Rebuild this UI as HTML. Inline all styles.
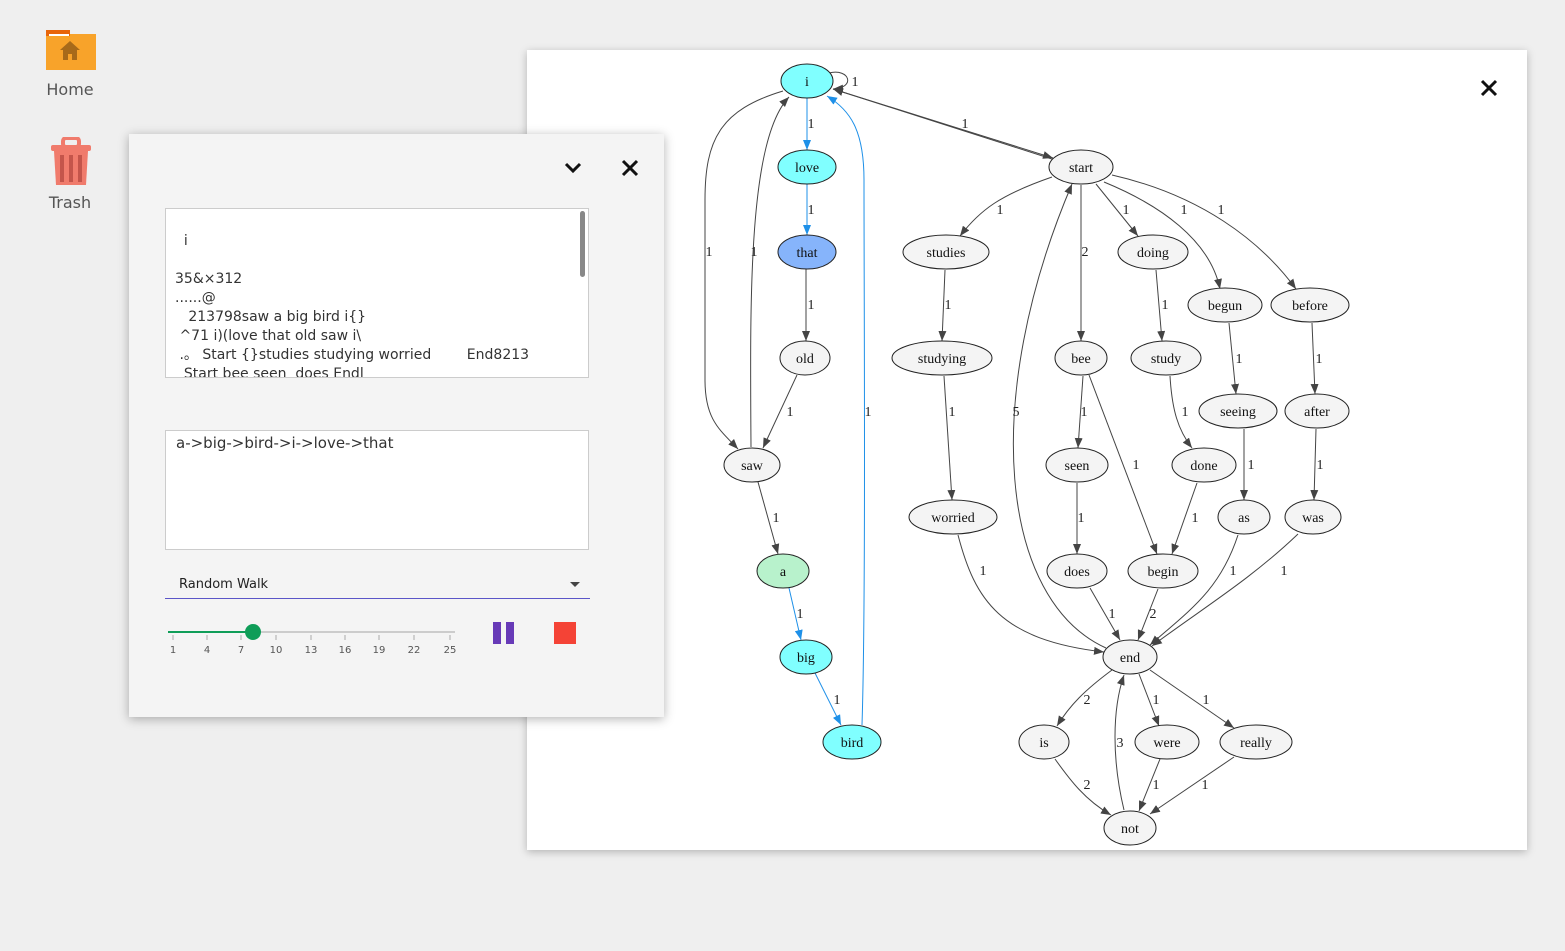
<!DOCTYPE html>
<html><head><meta charset="utf-8"><style>
body{margin:0;width:1565px;height:951px;background:#efefef;position:relative;overflow:hidden;font-family:"DejaVu Sans","Liberation Sans",sans-serif}
.lbl{position:absolute;width:100px;text-align:center;font-size:16px;color:#555}
#graph{position:absolute;left:527px;top:50px;width:1000px;height:800px;background:#fff;box-shadow:0 2px 8px rgba(0,0,0,.25)}
#panel{position:absolute;z-index:10;left:129px;top:134px;width:535px;height:583px;background:#f4f4f4;box-shadow:0 2px 10px rgba(0,0,0,.3)}
.ta{position:absolute;background:#fff;border:1px solid #ccc;box-sizing:border-box}
.ta pre{margin:0;font-family:"DejaVu Sans",sans-serif;font-size:14px;line-height:19px;color:#333}
</style></head><body>
<svg style="position:absolute;left:45px;top:28px" width="52" height="44"><path d="M1 2h20l4 4h26v36H1z" fill="#f8a32a"/><rect x="1" y="2" width="24" height="6" fill="#e8650a"/><rect x="4" y="6" width="20" height="2" fill="#fff"/><path d="M15 22l10-9 10 9h-3v10h-5v-6h-4v6h-5V22z" fill="#a76a1a"/></svg>
<div class="lbl" style="left:20px;top:80px">Home</div>
<svg style="position:absolute;left:50px;top:137px" width="42" height="52"><rect x="13" y="1" width="16" height="9" rx="3" fill="none" stroke="#f07b6c" stroke-width="4"/><rect x="1" y="8" width="40" height="6" rx="2" fill="#f07b6c"/><path d="M4 14h34l-2 34H6z" fill="#f07b6c"/><rect x="10" y="18" width="4" height="27" fill="#c4554b"/><rect x="19" y="18" width="4" height="27" fill="#c4554b"/><rect x="28" y="18" width="4" height="27" fill="#c4554b"/></svg>
<div class="lbl" style="left:20px;top:193px">Trash</div>

<div id="graph"></div>
<svg style="position:absolute;left:0;top:0" width="1565" height="951" font-family="Liberation Serif,serif" font-size="14">
<defs>
<marker id="a" markerUnits="userSpaceOnUse" markerWidth="10" markerHeight="8" refX="10" refY="4" orient="auto"><path d="M0 0L10 4L0 8z" fill="#444"/></marker>
<marker id="b" markerUnits="userSpaceOnUse" markerWidth="10" markerHeight="8" refX="10" refY="4" orient="auto"><path d="M0 0L10 4L0 8z" fill="#1e90e8"/></marker>
</defs>
<path d="M1482 81l14 14M1496 81l-14 14" stroke="#111" stroke-width="3"/>
<g fill="none" stroke="#444" stroke-width="1" marker-end="url(#a)">
<path d="M829 73C850 68 856 88 833 89"/>
<path d="M806 269V341"/>
<path d="M797 375L763 448"/>
<path d="M751 447C750 300 748 140 789 97"/>
<path d="M783 91C720 110 705 140 705 200L705 380C705 420 720 430 738 449"/>
<path d="M758 482L778 554"/>
<path d="M833 89L1053 158"/>
<path d="M1055 160L833 89"/>
<path d="M1052 177C1000 195 980 210 960 236"/>
<path d="M1081 185V341"/>
<path d="M1096 184L1138 236"/>
<path d="M1104 182C1160 205 1210 240 1220 289"/>
<path d="M1112 175C1200 195 1260 240 1296 289"/>
<path d="M945 270L942 341"/>
<path d="M944 376L952 500"/>
<path d="M958 535C975 600 1000 640 1104 652"/>
<path d="M1156 270L1162 341"/>
<path d="M1170 376C1172 410 1178 430 1192 448"/>
<path d="M1197 483L1172 554"/>
<path d="M1083 376L1078 448"/>
<path d="M1089 375L1157 554"/>
<path d="M1077 483V554"/>
<path d="M1090 588L1120 640"/>
<path d="M1158 589L1138 640"/>
<path d="M1229 323L1236 394"/>
<path d="M1244 429L1244 500"/>
<path d="M1238 535C1220 590 1190 610 1150 645"/>
<path d="M1312 323L1315 394"/>
<path d="M1316 429L1314 500"/>
<path d="M1298 534C1250 580 1200 610 1152 646"/>
<path d="M1106 648C1000 600 980 400 1072 184"/>
<path d="M1112 670C1085 690 1070 705 1057 726"/>
<path d="M1139 674L1159 726"/>
<path d="M1150 670L1234 728"/>
<path d="M1055 759C1070 780 1085 800 1111 815"/>
<path d="M1160 759L1139 811"/>
<path d="M1234 757L1150 814"/>
<path d="M1124 810C1112 760 1112 710 1124 675"/>
</g>
<g fill="none" stroke="#1e90e8" marker-end="url(#b)">
<path d="M807 98V150"/>
<path d="M807 184V235"/>
<path d="M789 588L801 640"/>
<path d="M815 673L841 725"/>
<path d="M862 725C866 600 864 300 864 180C864 130 850 110 827 96"/>
</g>
<g stroke="#222" stroke-width="1">
<ellipse cx="807" cy="81" rx="26" ry="17" fill="#80ffff"/>
<ellipse cx="807" cy="167" rx="29" ry="17" fill="#80ffff"/>
<ellipse cx="807" cy="252" rx="29" ry="17" fill="#86b4fb"/>
<ellipse cx="805" cy="358" rx="25" ry="17" fill="#f4f4f4"/>
<ellipse cx="752" cy="465" rx="28" ry="17" fill="#f4f4f4"/>
<ellipse cx="783" cy="571" rx="26" ry="17" fill="#b8f2cc"/>
<ellipse cx="806" cy="657" rx="26" ry="17" fill="#80ffff"/>
<ellipse cx="852" cy="742" rx="29" ry="17" fill="#80ffff"/>
<g fill="#f4f4f4">
<ellipse cx="1081" cy="167" rx="32" ry="17"/>
<ellipse cx="946" cy="252" rx="43" ry="17"/>
<ellipse cx="1153" cy="252" rx="35" ry="17"/>
<ellipse cx="1225" cy="305" rx="37" ry="17"/>
<ellipse cx="1310" cy="305" rx="39" ry="17"/>
<ellipse cx="942" cy="358" rx="50" ry="17"/>
<ellipse cx="1081" cy="358" rx="26" ry="17"/>
<ellipse cx="1166" cy="358" rx="35" ry="17"/>
<ellipse cx="1238" cy="411" rx="39" ry="17"/>
<ellipse cx="1317" cy="411" rx="32" ry="17"/>
<ellipse cx="953" cy="517" rx="44" ry="17"/>
<ellipse cx="1077" cy="465" rx="31" ry="17"/>
<ellipse cx="1204" cy="465" rx="32" ry="17"/>
<ellipse cx="1244" cy="517" rx="26" ry="17"/>
<ellipse cx="1313" cy="517" rx="28" ry="17"/>
<ellipse cx="1077" cy="571" rx="30" ry="17"/>
<ellipse cx="1163" cy="571" rx="35" ry="17"/>
<ellipse cx="1130" cy="657" rx="27" ry="17"/>
<ellipse cx="1044" cy="742" rx="25" ry="17"/>
<ellipse cx="1167" cy="742" rx="32" ry="17"/>
<ellipse cx="1256" cy="742" rx="36" ry="17"/>
<ellipse cx="1130" cy="828" rx="26" ry="17"/>
</g></g>
<g text-anchor="middle" fill="#111">
<text x="807" y="86">i</text><text x="807" y="172">love</text><text x="807" y="257">that</text><text x="805" y="363">old</text><text x="752" y="470">saw</text><text x="783" y="576">a</text><text x="806" y="662">big</text><text x="852" y="747">bird</text>
<text x="1081" y="172">start</text><text x="946" y="257">studies</text><text x="1153" y="257">doing</text><text x="1225" y="310">begun</text><text x="1310" y="310">before</text><text x="942" y="363">studying</text><text x="1081" y="363">bee</text><text x="1166" y="363">study</text><text x="1238" y="416">seeing</text><text x="1317" y="416">after</text><text x="953" y="522">worried</text><text x="1077" y="470">seen</text><text x="1204" y="470">done</text><text x="1244" y="522">as</text><text x="1313" y="522">was</text><text x="1077" y="576">does</text><text x="1163" y="576">begin</text><text x="1130" y="662">end</text><text x="1044" y="747">is</text><text x="1167" y="747">were</text><text x="1256" y="747">really</text><text x="1130" y="833">not</text>
</g>
<g text-anchor="middle" fill="#222">
<text x="855" y="86">1</text><text x="811" y="128">1</text><text x="811" y="214">1</text><text x="811" y="309">1</text><text x="790" y="416">1</text><text x="754" y="256">1</text><text x="709" y="256">1</text><text x="776" y="522">1</text><text x="800" y="618">1</text><text x="837" y="704">1</text><text x="868" y="416">1</text><text x="965" y="128">1</text>
<text x="1000" y="214">1</text><text x="1085" y="256">2</text><text x="1126" y="214">1</text><text x="1184" y="214">1</text><text x="1221" y="214">1</text><text x="948" y="309">1</text><text x="952" y="416">1</text><text x="983" y="575">1</text><text x="1165" y="309">1</text><text x="1185" y="416">1</text><text x="1195" y="522">1</text><text x="1084" y="416">1</text><text x="1136" y="469">1</text><text x="1081" y="522">1</text><text x="1112" y="618">1</text><text x="1153" y="618">2</text><text x="1239" y="363">1</text><text x="1251" y="469">1</text><text x="1233" y="575">1</text><text x="1319" y="363">1</text><text x="1320" y="469">1</text><text x="1284" y="575">1</text><text x="1016" y="416">5</text><text x="1087" y="704">2</text><text x="1156" y="704">1</text><text x="1206" y="704">1</text><text x="1087" y="789">2</text><text x="1156" y="789">1</text><text x="1205" y="789">1</text><text x="1120" y="747">3</text>
</g>
</svg>

<div id="panel">
<svg style="position:absolute;left:434px;top:26px" width="20" height="16"><path d="M3 4l7 7 7-7" fill="none" stroke="#111" stroke-width="3"/></svg>
<svg style="position:absolute;left:492px;top:25px" width="18" height="18"><path d="M2 2l14 14M16 2L2 16" stroke="#111" stroke-width="3"/></svg>
<div class="ta" style="left:36px;top:74px;width:424px;height:170px;overflow:hidden">
<pre style="padding:23px 0 0 9px">  i

35&amp;×312
......@
   213798saw a big bird i{}
 ^71 i)(love that old saw i\
 .。 Start {}studies studying worried        End8213
  Start bee seen  does Endl</pre>
<div style="position:absolute;right:3px;top:2px;width:5px;height:66px;background:#888;border-radius:3px"></div>
</div>
<div class="ta" style="left:36px;top:296px;width:424px;height:120px"><pre style="padding:3px 0 0 10px;font-size:15px">a-&gt;big-&gt;bird-&gt;i-&gt;love-&gt;that</pre></div>
<div style="position:absolute;left:50px;top:443px;font-size:13px;color:#222">Random Walk</div>
<svg style="position:absolute;left:440px;top:447px" width="12" height="8"><path d="M1 1h10l-5 5z" fill="#444"/></svg>
<div style="position:absolute;left:36px;top:464px;width:425px;height:1px;background:#5b55c8"></div>
<div style="position:absolute;left:39px;top:497px;width:287px;height:2px;background:#ccc"></div>
<div style="position:absolute;left:39px;top:497px;width:85px;height:2px;background:#0f9d58"></div>
<div style="position:absolute;left:116px;top:490px;width:16px;height:16px;border-radius:50%;background:#0f9d58"></div>
<svg style="position:absolute;left:30px;top:500px" width="310" height="24" font-size="10" fill="#555" font-family="DejaVu Sans,sans-serif" text-anchor="middle">
<g stroke="#aaa"><path d="M14 1v5M48 1v5M82 1v5M117 1v5M152 1v5M186 1v5M220 1v5M255 1v5M291 1v5"/></g>
<text x="14" y="19">1</text><text x="48" y="19">4</text><text x="82" y="19">7</text><text x="117" y="19">10</text><text x="152" y="19">13</text><text x="186" y="19">16</text><text x="220" y="19">19</text><text x="255" y="19">22</text><text x="291" y="19">25</text></svg>
<div style="position:absolute;left:364px;top:488px;width:8px;height:22px;background:#673ab7"></div>
<div style="position:absolute;left:377px;top:488px;width:8px;height:22px;background:#673ab7"></div>
<div style="position:absolute;left:425px;top:488px;width:22px;height:22px;background:#f44336"></div>
</div>
</body></html>
